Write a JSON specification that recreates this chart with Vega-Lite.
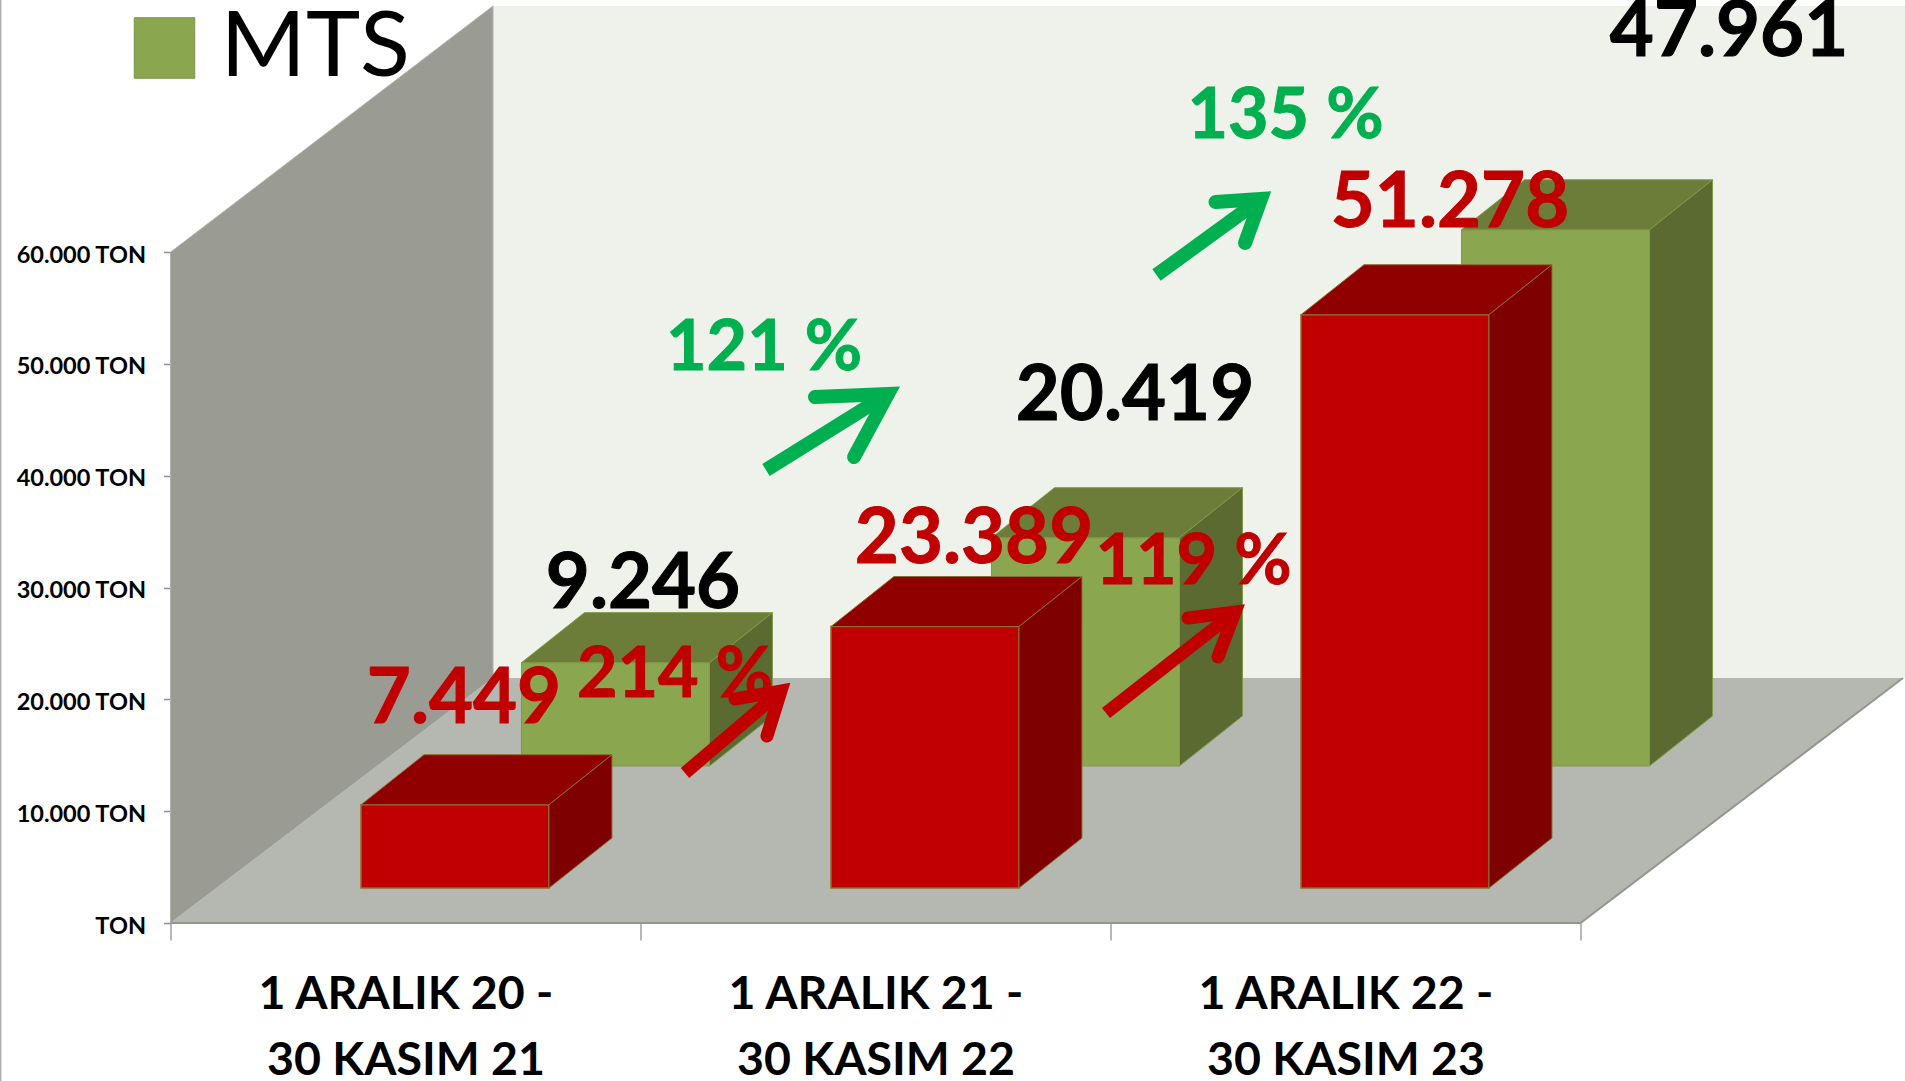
{
"$schema":"https://vega.github.io/schema/vega-lite/v6.json",
"width":1734.5,"height":923,
"padding":{"left":170.5,"top":0,"right":0,"bottom":158},
"autosize":{"type":"none"},
"background":"white",
"config":{"view":{"stroke":null},"font":"Lato"},
"resolve":{"axis":{"x":"independent","y":"independent"}},
"datasets":{
"yanDuvar":[{"x":0,"y":0,"y2":60000},{"x":0.6862,"y":21914,"y2":82021}],
"arkaDuvar":[{"x":0.6862,"x2":3.6904,"y":21914,"y2":82021}],
"zemin":[{"y":0,"x":0,"x2":3},{"y":21914,"x":0.6862,"x2":3.6862}],
"zeminKenar":[{"k":0,"x":0,"y":0},{"k":1,"x":3,"y":0},{"k":2,"x":3.6862,"y":21914}],
"kenar":[{"x":-0.3617,"y":-14132,"y2":82558}],
"yanYuz":[
{"c":"R0","seri":"Kirmizi","x":0.8053,"y":3130,"y2":10579},{"c":"R0","seri":"Kirmizi","x":0.9393,"y":7602,"y2":15051},
{"c":"R1","seri":"Kirmizi","x":1.8053,"y":3130,"y2":26519},{"c":"R1","seri":"Kirmizi","x":1.9393,"y":7602,"y2":30991},
{"c":"R2","seri":"Kirmizi","x":2.8053,"y":3130,"y2":54408},{"c":"R2","seri":"Kirmizi","x":2.9393,"y":7602,"y2":58880},
{"c":"G0","seri":"MTS","x":1.1468,"y":14043,"y2":23289},{"c":"G0","seri":"MTS","x":1.2808,"y":18515,"y2":27761},
{"c":"G1","seri":"MTS","x":2.1468,"y":14043,"y2":34462},{"c":"G1","seri":"MTS","x":2.2808,"y":18515,"y2":38934},
{"c":"G2","seri":"MTS","x":3.1468,"y":14043,"y2":62004},{"c":"G2","seri":"MTS","x":3.2808,"y":18515,"y2":66476}
],
"ustYuz":[
{"c":"R0","seri":"Kirmizi","y":10579,"x":0.4053,"x2":0.8053},{"c":"R0","seri":"Kirmizi","y":15051,"x":0.5393,"x2":0.9393},
{"c":"R1","seri":"Kirmizi","y":26519,"x":1.4053,"x2":1.8053},{"c":"R1","seri":"Kirmizi","y":30991,"x":1.5393,"x2":1.9393},
{"c":"R2","seri":"Kirmizi","y":54408,"x":2.4053,"x2":2.8053},{"c":"R2","seri":"Kirmizi","y":58880,"x":2.5393,"x2":2.9393},
{"c":"G0","seri":"MTS","y":23289,"x":0.7468,"x2":1.1468},{"c":"G0","seri":"MTS","y":27761,"x":0.8808,"x2":1.2808},
{"c":"G1","seri":"MTS","y":34462,"x":1.7468,"x2":2.1468},{"c":"G1","seri":"MTS","y":38934,"x":1.8808,"x2":2.2808},
{"c":"G2","seri":"MTS","y":62004,"x":2.7468,"x2":3.1468},{"c":"G2","seri":"MTS","y":66476,"x":2.8808,"x2":3.2808}
],
"metinler":[
{"metin":"47.961","x":3.316,"y":77549,"seri":"MTS","tur":"deger"},
{"metin":"20.419","x":2.0521,"y":44991,"seri":"MTS","tur":"deger"},
{"metin":"9.246","x":1.0053,"y":28175,"seri":"MTS","tur":"deger"},
{"metin":"51.278","x":2.7223,"y":62254,"seri":"Kirmizi","tur":"deger"},
{"metin":"23.389","x":1.7096,"y":32200,"seri":"Kirmizi","tur":"deger"},
{"metin":"7.449","x":0.6245,"y":17889,"seri":"Kirmizi","tur":"deger"},
{"metin":"135 %","x":2.3723,"y":70214,"seri":"MTS","tur":"artis"},
{"metin":"121 %","x":1.2628,"y":49463,"seri":"MTS","tur":"artis"},
{"metin":"119 %","x":2.1766,"y":30322,"seri":"Kirmizi","tur":"artis"},
{"metin":"214 %","x":1.0734,"y":20215,"seri":"Kirmizi","tur":"artis"}
],
"okGovde":[
{"ok":"G1","seri":"MTS","k":0,"x":1.267,"y":40519},{"ok":"G1","seri":"MTS","k":1,"x":1.5266,"y":47316},
{"ok":"G2","seri":"MTS","k":0,"x":2.0979,"y":57960},{"ok":"G2","seri":"MTS","k":1,"x":2.3202,"y":64758},
{"ok":"R1","seri":"Kirmizi","k":0,"x":1.0947,"y":13417},{"ok":"R1","seri":"Kirmizi","k":1,"x":1.2989,"y":20751},
{"ok":"R2","seri":"Kirmizi","k":0,"x":1.9904,"y":18783},{"ok":"R2","seri":"Kirmizi","k":1,"x":2.2649,"y":27817}
],
"okBas":[
{"ok":"G1","seri":"MTS","k":0,"x":1.3713,"y":47048},{"ok":"G1","seri":"MTS","k":1,"x":1.5266,"y":47316},{"ok":"G1","seri":"MTS","k":2,"x":1.4543,"y":41681},
{"ok":"G2","seri":"MTS","k":0,"x":2.2234,"y":64490},{"ok":"G2","seri":"MTS","k":1,"x":2.3202,"y":64758},{"ok":"G2","seri":"MTS","k":2,"x":2.2862,"y":60823},
{"ok":"R1","seri":"Kirmizi","k":0,"x":1.2011,"y":20036},{"ok":"R1","seri":"Kirmizi","k":1,"x":1.2989,"y":20751},{"ok":"R1","seri":"Kirmizi","k":2,"x":1.2691,"y":16726},
{"ok":"R2","seri":"Kirmizi","k":0,"x":2.1649,"y":27281},{"ok":"R2","seri":"Kirmizi","k":1,"x":2.2649,"y":27817},{"ok":"R2","seri":"Kirmizi","k":2,"x":2.2287,"y":23792}
]
},
"data":{"values":[
{"donem":"1 ARALIK 20 - 30 KASIM 21","i":0,"seri":"Kirmizi","ton":7449},
{"donem":"1 ARALIK 21 - 30 KASIM 22","i":1,"seri":"Kirmizi","ton":23389},
{"donem":"1 ARALIK 22 - 30 KASIM 23","i":2,"seri":"Kirmizi","ton":51278},
{"donem":"1 ARALIK 20 - 30 KASIM 21","i":0,"seri":"MTS","ton":9246},
{"donem":"1 ARALIK 21 - 30 KASIM 22","i":1,"seri":"MTS","ton":20419},
{"donem":"1 ARALIK 22 - 30 KASIM 23","i":2,"seri":"MTS","ton":47961}
]},
"transform":[
{"calculate":"datum.i+(datum.seri==='MTS'?0.7468:0.4053)","as":"x0"},
{"calculate":"datum.x0+0.4","as":"x1"},
{"calculate":"datum.seri==='MTS'?14043:3130","as":"y0"},
{"calculate":"datum.y0+datum.ton","as":"y1"}
],
"layer":[
{"data":{"name":"arkaDuvar"},"mark":{"type":"rect","fill":"#EFF2EB"},
 "encoding":{
  "x":{"field":"x","type":"quantitative","title":null,
   "scale":{"domain":[0,3.6904],"nice":false,"zero":false},
   "axis":{"values":[0,0.5,1,1.5,2,2.5,3],"domain":false,"grid":false,"tickSize":17,"tickColor":"#A0A0A0","tickWidth":1.5,
     "tickOpacity":{"condition":{"test":"datum.value%1===0","value":1},"value":0},
     "labelExpr":"datum.value===0.5?['1 ARALIK 20 -','30 KASIM 21']:datum.value===1.5?['1 ARALIK 21 -','30 KASIM 22']:datum.value===2.5?['1 ARALIK 22 -','30 KASIM 23']:''",
     "labelFont":"Lato","labelFontWeight":"bold","labelFontSize":46.5,"labelColor":"#000000","labelLineHeight":66,"labelBaseline":"top","labelPadding":31,"labelLimit":600,"labelOverlap":false,"labelBound":false,"labelFlush":false,"labelAngle":0}},
  "x2":{"field":"x2"},
  "y":{"field":"y","type":"quantitative","title":null,
   "scale":{"domain":[0,82558],"nice":false,"zero":false},
   "axis":{"values":[0,10000,20000,30000,40000,50000,60000],"domain":false,"grid":false,"tickSize":7,"tickColor":"#909090","tickWidth":1.5,
     "labelExpr":"datum.value===0?'TON':replace(format(datum.value,','),',','.')+' TON'",
     "labelFont":"Lato","labelFontWeight":"bold","labelFontSize":23.5,"labelColor":"#000000","labelPadding":18,"labelOffset":3,"labelOverlap":false,"labelBound":false,"labelFlush":false}},
  "y2":{"field":"y2"}}},
{"data":{"name":"yanDuvar"},"mark":{"type":"area","fill":"#9A9C94","stroke":"#B0B2AA","strokeWidth":1},
 "encoding":{"x":{"field":"x","type":"quantitative","axis":null},"y":{"field":"y","type":"quantitative","axis":null,"stack":null},"y2":{"field":"y2"}}},
{"data":{"name":"zemin"},"mark":{"type":"area","orient":"horizontal","fill":"#B5B8B0"},
 "encoding":{"y":{"field":"y","type":"quantitative","axis":null},"x":{"field":"x","type":"quantitative","axis":null,"stack":null},"x2":{"field":"x2"}}},
{"data":{"name":"zeminKenar"},"mark":{"type":"line","stroke":"#939590","strokeWidth":2},
 "encoding":{"x":{"field":"x","type":"quantitative","axis":null},"y":{"field":"y","type":"quantitative","axis":null},"order":{"field":"k"}}},
{"data":{"name":"kenar"},"mark":{"type":"rule","stroke":"#B0B0B0","strokeWidth":2,"clip":false},
 "encoding":{"x":{"field":"x","type":"quantitative","axis":null},"y":{"field":"y","type":"quantitative","axis":null},"y2":{"field":"y2"}}},

{"transform":[{"filter":"datum.seri==='MTS'"}],"mark":{"type":"rect","stroke":"#7F9A48","strokeWidth":1},
 "encoding":{"x":{"field":"x0","type":"quantitative","axis":null},"x2":{"field":"x1"},"y":{"field":"y0","type":"quantitative","axis":null},"y2":{"field":"y1"},
  "color":{"field":"seri","type":"nominal","scale":{"domain":["MTS","Kirmizi"],"range":["#8AA64E","#C00000"]},
   "legend":{"values":["MTS"],"title":null,"orient":"none","legendX":-52,"legendY":2,"symbolType":"square","symbolSize":3660,"symbolStrokeColor":"#7A9444","symbolStrokeWidth":1,"symbolOpacity":1,"labelFont":"Lato","labelFontSize":92,"labelColor":"#000000","labelOffset":10,"labelLimit":400}}}},
{"data":{"name":"ustYuz"},"transform":[{"filter":"datum.seri==='MTS'"}],"mark":{"type":"area","orient":"horizontal","fill":"#6C7D3A","stroke":"#7F9A48","strokeWidth":1},
 "encoding":{"y":{"field":"y","type":"quantitative","axis":null},"x":{"field":"x","type":"quantitative","axis":null,"stack":null},"x2":{"field":"x2"},"detail":{"field":"c","type":"nominal"}}},
{"data":{"name":"yanYuz"},"transform":[{"filter":"datum.seri==='MTS'"}],"mark":{"type":"area","fill":"#5A6A30","stroke":"#7F9A48","strokeWidth":1},
 "encoding":{"x":{"field":"x","type":"quantitative","axis":null},"y":{"field":"y","type":"quantitative","axis":null,"stack":null},"y2":{"field":"y2"},"detail":{"field":"c","type":"nominal"}}},

{"transform":[{"filter":"datum.seri==='Kirmizi'"}],"mark":{"type":"rect","stroke":"#8B6F2F","strokeWidth":1.5},
 "encoding":{"x":{"field":"x0","type":"quantitative","axis":null},"x2":{"field":"x1"},"y":{"field":"y0","type":"quantitative","axis":null},"y2":{"field":"y1"},
  "color":{"field":"seri","type":"nominal","scale":{"domain":["MTS","Kirmizi"],"range":["#8AA64E","#C00000"]},"legend":{"values":["MTS"],"title":null,"orient":"none","legendX":-52,"legendY":2,"symbolType":"square","symbolSize":3660,"symbolStrokeColor":"#7A9444","symbolStrokeWidth":1,"symbolOpacity":1,"labelFont":"Lato","labelFontSize":92,"labelColor":"#000000","labelOffset":10,"labelLimit":400}}}},
{"data":{"name":"ustYuz"},"transform":[{"filter":"datum.seri==='Kirmizi'"}],"mark":{"type":"area","orient":"horizontal","fill":"#900000","stroke":"#8B6F2F","strokeWidth":1},
 "encoding":{"y":{"field":"y","type":"quantitative","axis":null},"x":{"field":"x","type":"quantitative","axis":null,"stack":null},"x2":{"field":"x2"},"detail":{"field":"c","type":"nominal"}}},
{"data":{"name":"yanYuz"},"transform":[{"filter":"datum.seri==='Kirmizi'"}],"mark":{"type":"area","fill":"#7E0000","stroke":"#8B6F2F","strokeWidth":1},
 "encoding":{"x":{"field":"x","type":"quantitative","axis":null},"y":{"field":"y","type":"quantitative","axis":null,"stack":null},"y2":{"field":"y2"},"detail":{"field":"c","type":"nominal"}}},

{"data":{"name":"metinler"},"transform":[{"filter":"datum.seri==='MTS'&&datum.tur==='deger'"}],"mark":{"type":"text","font":"Lato","fontWeight":"bold","fontSize":76,"fill":"#000000","stroke":"#000000","strokeWidth":1,"align":"center","baseline":"alphabetic"},
 "encoding":{"x":{"field":"x","type":"quantitative","axis":null},"y":{"field":"y","type":"quantitative","axis":null},"text":{"field":"metin"}}},
{"data":{"name":"metinler"},"transform":[{"filter":"datum.seri==='Kirmizi'&&datum.tur==='deger'"}],"mark":{"type":"text","font":"Lato","fontWeight":"bold","fontSize":76,"fill":"#C00000","stroke":"#C00000","strokeWidth":1,"align":"center","baseline":"alphabetic"},
 "encoding":{"x":{"field":"x","type":"quantitative","axis":null},"y":{"field":"y","type":"quantitative","axis":null},"text":{"field":"metin"}}},
{"data":{"name":"metinler"},"transform":[{"filter":"datum.seri==='MTS'&&datum.tur==='artis'"}],"mark":{"type":"text","font":"Lato","fontWeight":"bold","fontSize":70,"fill":"#00B050","stroke":"#00B050","strokeWidth":1,"align":"center","baseline":"alphabetic"},
 "encoding":{"x":{"field":"x","type":"quantitative","axis":null},"y":{"field":"y","type":"quantitative","axis":null},"text":{"field":"metin"}}},
{"data":{"name":"metinler"},"transform":[{"filter":"datum.seri==='Kirmizi'&&datum.tur==='artis'"}],"mark":{"type":"text","font":"Lato","fontWeight":"bold","fontSize":70,"fill":"#C00000","stroke":"#C00000","strokeWidth":1,"align":"center","baseline":"alphabetic"},
 "encoding":{"x":{"field":"x","type":"quantitative","axis":null},"y":{"field":"y","type":"quantitative","axis":null},"text":{"field":"metin"}}},

{"data":{"name":"okGovde"},"transform":[{"filter":"datum.seri==='MTS'"}],"mark":{"type":"line","stroke":"#00B050","strokeWidth":14,"strokeCap":"butt"},
 "encoding":{"x":{"field":"x","type":"quantitative","axis":null},"y":{"field":"y","type":"quantitative","axis":null},"detail":{"field":"ok"},"order":{"field":"k"}}},
{"data":{"name":"okBas"},"transform":[{"filter":"datum.seri==='MTS'"}],"mark":{"type":"line","stroke":"#00B050","strokeWidth":14,"strokeCap":"round","strokeJoin":"miter","strokeMiterLimit":10},
 "encoding":{"x":{"field":"x","type":"quantitative","axis":null},"y":{"field":"y","type":"quantitative","axis":null},"detail":{"field":"ok"},"order":{"field":"k"}}},
{"data":{"name":"okGovde"},"transform":[{"filter":"datum.seri==='Kirmizi'"}],"mark":{"type":"line","stroke":"#C00000","strokeWidth":13,"strokeCap":"butt"},
 "encoding":{"x":{"field":"x","type":"quantitative","axis":null},"y":{"field":"y","type":"quantitative","axis":null},"detail":{"field":"ok"},"order":{"field":"k"}}},
{"data":{"name":"okBas"},"transform":[{"filter":"datum.seri==='Kirmizi'"}],"mark":{"type":"line","stroke":"#C00000","strokeWidth":13,"strokeCap":"round","strokeJoin":"miter","strokeMiterLimit":10},
 "encoding":{"x":{"field":"x","type":"quantitative","axis":null},"y":{"field":"y","type":"quantitative","axis":null},"detail":{"field":"ok"},"order":{"field":"k"}}}
]
}
